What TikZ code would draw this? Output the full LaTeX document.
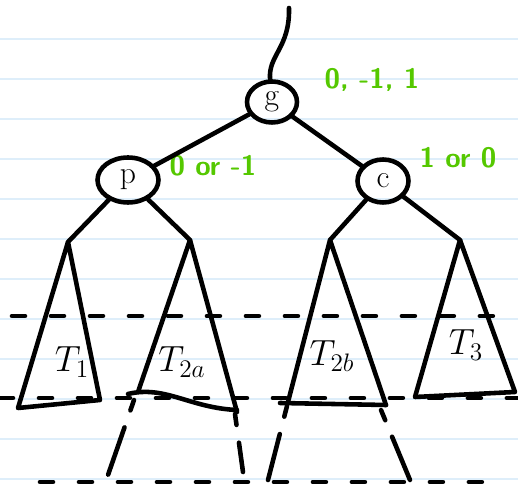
\documentclass[tikz,border=0pt]{standalone}
\usetikzlibrary{shapes.geometric}
\definecolor{notebook}{RGB}{222,238,250}
\definecolor{penGreen}{RGB}{85,200,0}

\begin{document}
\begin{tikzpicture}[x=0.02cm, y=-0.02cm,
		pen/.style={line width=2.6pt, line cap=round, line join=round},
		dashpen/.style={pen, dash pattern=on 0.26cm off 0.52cm},
		sidepen/.style={pen, dash pattern=on 0.22cm off 0.36cm on 1cm off 0.3cm},
		knot/.style={draw, ellipse, pen, inner sep=0pt, font=\fontsize{18}{18}\selectfont},
		note/.style={text=penGreen, font=\fontsize{16}{18}\sffamily\bfseries},
		tree/.style={font=\fontsize{20}{24}\selectfont}]
	% параметры
	\def\W{518} % ширина листа
	\def\H{489} % высота листа

	\useasboundingbox[fill=white] (0,0) rectangle (\W,\H);

	% тетрадные линии
	\foreach \y in {39,79,...,479}
		\draw[notebook, line width=0.9pt] (0,\y) -- (\W,\y);

	% узлы
	\node[knot, minimum width=1.0cm, minimum height=0.82cm] (g) at (272,102) {g};
	\node[knot, minimum width=1.22cm, minimum height=0.9cm] (p) at (128,180) {p};
	\node[knot, minimum width=1.02cm, minimum height=0.86cm] (c) at (383,181) {c};

	% балансы
	\node[note] (gbal) at (372,80) {0, -1, 1};
	\node[note] (pbal) at (213,166) {0 or -1};
	\node[note] (cbal) at (458,158) {1 or 0};

	% вершины поддеревьев
	\coordinate (top) at (289,8);
	\coordinate (t1) at (68,242);
	\coordinate (t2a) at (190,240);
	\coordinate (t2b) at (330,240);
	\coordinate (t3) at (460,240);

	% рёбра
	\draw[pen] (top) .. controls (290,48) and (268,55) .. (g);
	\draw[pen] (g) -- (p);
	\draw[pen] (g) -- (c);
	\draw[pen] (p) -- (t1);
	\draw[pen] (p) -- (t2a);
	\draw[pen] (c) -- (t2b);
	\draw[pen] (c) -- (t3);

	% поддеревья
	\draw[pen] (t1) -- (18,408) -- (100,400) -- cycle;
	\draw[pen] (138,392) -- (t2a) -- (237,412);
	\draw[pen] (128,394) .. controls (165,385) and (190,408) .. (237,410);
	\draw[pen] (288,402) -- (t2b) -- (386,405);
	\draw[pen] (280,403) -- (386,405);
	\draw[pen] (t3) -- (415,397) -- (515,392) -- cycle;

	\node[tree] (T1) at (72,362) {$T_1$};
	\node[tree] (T2a) at (182,362) {$T_{2a}$};
	\node[tree] (T2b) at (332,356) {$T_{2b}$};
	\node[tree] (T3) at (466,345) {$T_3$};

	% уровни высоты
	\draw[dashpen] (12,316) -- (\W,316);
	\draw[dashpen] (0,398) -- (\W,398);
	\draw[dashpen] (40,482) -- (495,482);

	% продолжение T2a и T2b
	\draw[sidepen] (134,400) -- (108,475);
	\draw[sidepen] (235,414) -- (243,472);
	\draw[sidepen] (287,406) -- (268,480);
	\draw[sidepen] (381,410) -- (410,480);
\end{tikzpicture}
\end{document}
